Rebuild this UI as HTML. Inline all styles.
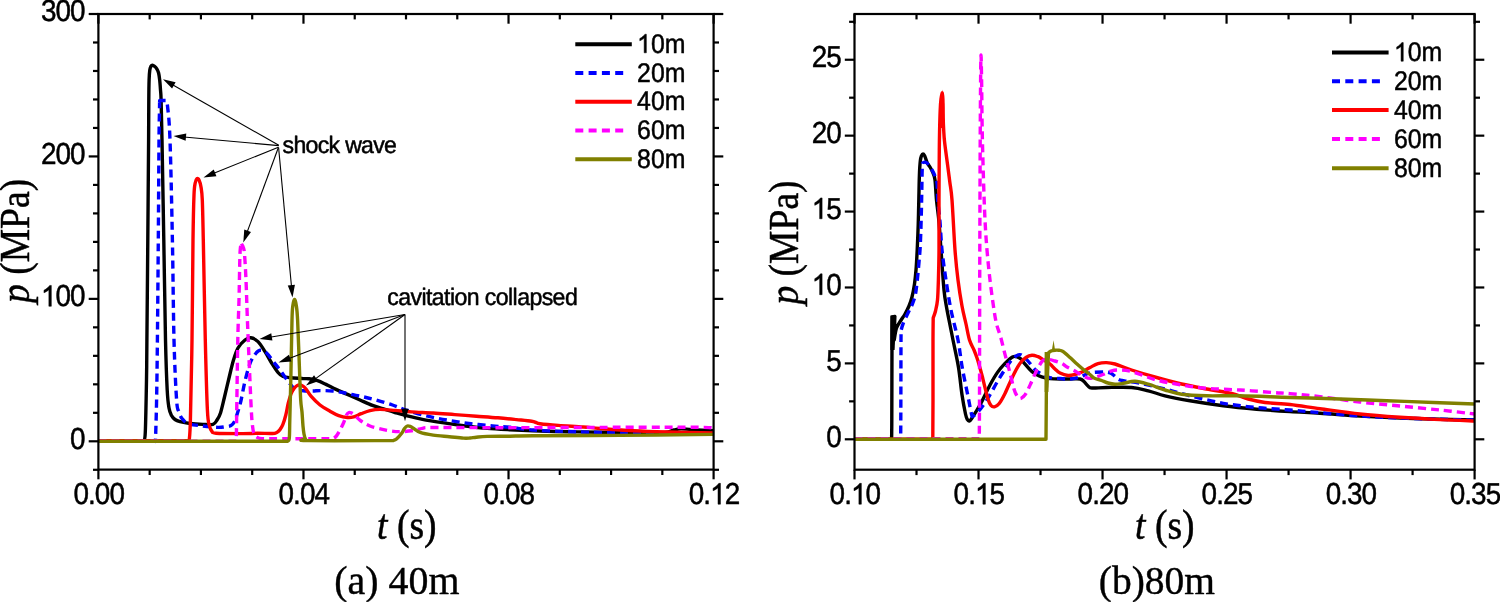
<!DOCTYPE html><html><head><meta charset="utf-8"><style>html,body{margin:0;padding:0;background:#fff;width:1500px;height:602px;overflow:hidden}svg text{fill:#000} svg{will-change:transform} path.t{fill:#000;stroke:#000;stroke-width:0.5px;stroke-linejoin:round} text.s{font-family:"Liberation Sans",sans-serif;text-rendering:geometricPrecision;stroke:#000;stroke-width:0.5px;stroke-linejoin:round;font-kerning:none} tspan.h{fill-opacity:0;stroke-opacity:0} text.ax{stroke:#000;stroke-width:0.5px} text.cap{stroke:#000;stroke-width:0.4px}</style></head><body><svg width="1500" height="602" viewBox="0 0 1500 602" style="position:absolute;left:0;top:0">
<rect width="1500" height="602" fill="#fff"/>
<g clip-path="url(#clipL)">
<path d="M98.50,441.20 L143.80,441.20 C144.05,439.67 144.85,442.20 145.30,432.00 C145.75,421.80 146.23,395.33 146.50,380.00 C146.77,364.67 146.68,363.33 146.90,340.00 C147.12,316.67 147.52,273.33 147.80,240.00 C148.08,206.67 148.43,163.33 148.60,140.00 C148.77,116.67 148.72,110.00 148.80,100.00 C148.88,90.00 148.93,85.00 149.10,80.00 C149.27,75.00 149.48,72.30 149.80,70.00 C150.12,67.70 150.55,67.00 151.00,66.20 C151.45,65.40 151.92,65.18 152.50,65.20 C153.08,65.22 153.78,65.70 154.50,66.30 C155.22,66.90 156.12,67.68 156.80,68.80 C157.48,69.92 158.12,71.13 158.60,73.00 C159.08,74.87 159.38,77.17 159.70,80.00 C160.02,82.83 160.27,86.67 160.50,90.00 C160.73,93.33 160.85,91.67 161.10,100.00 C161.35,108.33 161.55,116.67 162.00,140.00 C162.45,163.33 163.22,206.67 163.80,240.00 C164.38,273.33 164.93,315.00 165.50,340.00 C166.07,365.00 166.62,378.67 167.20,390.00 C167.78,401.33 168.28,403.75 169.00,408.00 C169.72,412.25 170.50,413.58 171.50,415.50 C172.50,417.42 173.58,418.48 175.00,419.50 C176.42,420.52 177.50,420.93 180.00,421.60 C182.50,422.27 186.17,423.03 190.00,423.50 C193.83,423.97 199.17,424.27 203.00,424.40 C206.83,424.53 210.67,425.03 213.00,424.30 C215.33,423.57 215.75,421.88 217.00,420.00 C218.25,418.12 219.25,416.83 220.50,413.00 C221.75,409.17 223.08,402.83 224.50,397.00 C225.92,391.17 227.50,384.17 229.00,378.00 C230.50,371.83 232.00,365.00 233.50,360.00 C235.00,355.00 236.08,351.33 238.00,348.00 C239.92,344.67 242.87,341.70 245.00,340.00 C247.13,338.30 248.63,337.53 250.80,337.80 C252.97,338.07 255.63,339.30 258.00,341.60 C260.37,343.90 262.73,348.03 265.00,351.60 C267.27,355.17 269.43,359.52 271.60,363.00 C273.77,366.48 276.10,370.25 278.00,372.50 C279.90,374.75 280.73,375.62 283.00,376.50 C285.27,377.38 288.27,377.45 291.60,377.80 C294.93,378.15 300.10,378.43 303.00,378.60 C305.90,378.77 306.58,378.47 309.00,378.80 C311.42,379.13 314.67,379.67 317.50,380.60 C320.33,381.53 322.92,382.93 326.00,384.40 C329.08,385.87 332.42,387.73 336.00,389.40 C339.58,391.07 343.50,392.63 347.50,394.40 C351.50,396.17 355.83,398.17 360.00,400.00 C364.17,401.83 368.33,403.83 372.50,405.40 C376.67,406.97 381.25,408.22 385.00,409.40 C388.75,410.58 391.47,411.47 395.00,412.50 C398.53,413.53 401.63,414.47 406.20,415.60 C410.77,416.73 416.10,418.08 422.40,419.30 C428.70,420.52 436.80,421.78 444.00,422.90 C451.20,424.02 458.40,425.08 465.60,426.00 C472.80,426.92 479.80,427.77 487.20,428.40 C494.60,429.03 502.37,429.40 510.00,429.80 C517.63,430.20 523.57,430.48 533.00,430.80 C542.43,431.12 555.43,431.47 566.60,431.70 C577.77,431.93 587.77,432.05 600.00,432.20 C612.23,432.35 629.17,432.57 640.00,432.60 C650.83,432.63 659.33,432.83 665.00,432.40 C670.67,431.97 671.33,430.60 674.00,430.00 C676.67,429.40 678.00,428.87 681.00,428.80 C684.00,428.73 686.58,429.27 692.00,429.60 C697.42,429.93 709.92,430.60 713.50,430.80" fill="none" stroke="#000000" stroke-width="3.4" stroke-linejoin="round" stroke-linecap="butt"/>
<path d="M98.50,441.20 L155.40,441.20 C155.43,440.50 155.40,443.87 155.60,437.00 C155.80,430.13 156.30,416.17 156.60,400.00 C156.90,383.83 157.12,366.67 157.40,340.00 C157.68,313.33 158.03,273.33 158.30,240.00 C158.57,206.67 158.80,161.67 159.00,140.00 C159.20,118.33 159.40,116.23 159.50,110.00 C159.60,103.77 159.58,103.83 159.60,102.60" fill="none" stroke="#0000ff" stroke-width="3.4" stroke-linejoin="round" stroke-linecap="butt" stroke-dasharray="8,5"/>
<path d="M159.60,102.60 L159.70,100.50 L166.00,100.50 C166.25,101.42 166.83,99.42 167.50,106.00 C168.17,112.58 169.18,117.67 170.00,140.00 C170.82,162.33 171.73,206.67 172.40,240.00 C173.07,273.33 173.30,313.33 174.00,340.00 C174.70,366.67 175.77,388.00 176.60,400.00 C177.43,412.00 178.10,408.92 179.00,412.00 C179.90,415.08 180.42,416.55 182.00,418.50 C183.58,420.45 185.00,422.45 188.50,423.70 C192.00,424.95 198.13,425.38 203.00,426.00 C207.87,426.62 214.03,427.27 217.70,427.40 C221.37,427.53 222.78,427.10 225.00,426.80 C227.22,426.50 229.42,426.48 231.00,425.60 C232.58,424.72 233.42,423.60 234.50,421.50 C235.58,419.40 236.42,416.50 237.50,413.00 C238.58,409.50 239.75,405.83 241.00,400.50 C242.25,395.17 243.50,387.17 245.00,381.00 C246.50,374.83 248.33,367.92 250.00,363.50 C251.67,359.08 253.33,356.70 255.00,354.50 C256.67,352.30 258.07,350.55 260.00,350.30 C261.93,350.05 264.38,351.12 266.60,353.00 C268.82,354.88 271.07,358.77 273.30,361.60 C275.53,364.43 277.50,366.67 280.00,370.00 C282.50,373.33 285.80,378.43 288.30,381.60 C290.80,384.77 292.50,387.47 295.00,389.00 C297.50,390.53 300.30,390.47 303.30,390.80 C306.30,391.13 310.22,391.03 313.00,391.00 C315.78,390.97 316.75,390.60 320.00,390.60 C323.25,390.60 328.75,390.68 332.50,391.00 C336.25,391.32 339.42,391.93 342.50,392.50 C345.58,393.07 347.47,393.67 351.00,394.40 C354.53,395.13 359.53,395.97 363.70,396.90 C367.87,397.83 371.20,398.65 376.00,400.00 C380.80,401.35 387.47,403.30 392.50,405.00 C397.53,406.70 400.32,408.33 406.20,410.20 C412.08,412.07 420.60,414.48 427.80,416.20 C435.00,417.92 442.20,419.25 449.40,420.50 C456.60,421.75 463.80,422.80 471.00,423.70 C478.20,424.60 486.10,425.30 492.60,425.90 C499.10,426.50 503.27,426.62 510.00,427.30 C516.73,427.98 523.67,429.30 533.00,430.00 C542.33,430.70 551.50,431.07 566.00,431.50 C580.50,431.93 595.42,432.27 620.00,432.60 C644.58,432.93 697.92,433.35 713.50,433.50" fill="none" stroke="#0000ff" stroke-width="3.4" stroke-linejoin="round" stroke-linecap="butt" stroke-dasharray="8,5"/>
<path d="M98.50,440.80 L189.20,440.80 C189.40,437.33 189.93,436.80 190.40,420.00 C190.87,403.20 191.57,370.00 192.00,340.00 C192.43,310.00 192.67,264.17 193.00,240.00 C193.33,215.83 193.63,204.50 194.00,195.00 C194.37,185.50 194.70,185.73 195.20,183.00 C195.70,180.27 196.37,179.10 197.00,178.60 C197.63,178.10 198.33,178.60 199.00,180.00 C199.67,181.40 200.45,183.67 201.00,187.00 C201.55,190.33 201.92,191.17 202.30,200.00 C202.68,208.83 202.80,216.67 203.30,240.00 C203.80,263.33 204.62,311.67 205.30,340.00 C205.98,368.33 206.70,395.67 207.40,410.00 C208.10,424.33 208.73,422.42 209.50,426.00 C210.27,429.58 210.92,430.30 212.00,431.50 C213.08,432.70 210.93,432.85 216.00,433.20 C221.07,433.55 235.50,433.58 242.40,433.60 C249.30,433.62 252.42,433.32 257.40,433.30 C262.38,433.28 269.07,433.63 272.30,433.50 C275.53,433.37 275.55,433.10 276.80,432.50 C278.05,431.90 278.80,431.20 279.80,429.90 C280.80,428.60 281.80,427.18 282.80,424.70 C283.80,422.22 284.88,418.62 285.80,415.00 C286.72,411.38 287.43,406.50 288.30,403.00 C289.17,399.50 290.05,396.42 291.00,394.00 C291.95,391.58 293.00,389.90 294.00,388.50 C295.00,387.10 296.00,386.18 297.00,385.60 C298.00,385.02 299.00,384.90 300.00,385.00 C301.00,385.10 302.00,385.53 303.00,386.20 C304.00,386.87 304.67,387.33 306.00,389.00 C307.33,390.67 308.67,393.53 311.00,396.20 C313.33,398.87 316.83,402.50 320.00,405.00 C323.17,407.50 326.88,409.43 330.00,411.20 C333.12,412.97 335.78,414.55 338.70,415.60 C341.62,416.65 345.00,417.28 347.50,417.50 C350.00,417.72 351.42,417.53 353.70,416.90 C355.98,416.27 358.48,414.75 361.20,413.70 C363.92,412.65 366.87,411.32 370.00,410.60 C373.13,409.88 375.83,409.43 380.00,409.40 C384.17,409.37 389.73,409.98 395.00,410.40 C400.27,410.82 405.23,411.47 411.60,411.90 C417.97,412.33 426.00,412.55 433.20,413.00 C440.40,413.45 447.60,414.07 454.80,414.60 C462.00,415.13 469.20,415.67 476.40,416.20 C483.60,416.73 491.30,417.23 498.00,417.80 C504.70,418.37 511.00,419.03 516.60,419.60 C522.20,420.17 528.37,420.72 531.60,421.20 C534.83,421.68 534.60,422.08 536.00,422.50 C537.40,422.92 536.28,423.22 540.00,423.70 C543.72,424.18 551.08,424.85 558.30,425.40 C565.52,425.95 576.35,426.48 583.30,427.00 C590.25,427.52 591.67,427.87 600.00,428.50 C608.33,429.13 622.20,430.22 633.30,430.80 C644.40,431.38 653.23,431.65 666.60,432.00 C679.97,432.35 705.68,432.75 713.50,432.90" fill="none" stroke="#ff0000" stroke-width="3.4" stroke-linejoin="round" stroke-linecap="butt"/>
<path d="M98.50,441.20 L236.30,441.20 C236.35,437.67 236.35,436.87 236.60,420.00 C236.85,403.13 237.40,360.00 237.80,340.00 C238.20,320.00 238.70,311.67 239.00,300.00 C239.30,288.33 239.45,277.33 239.60,270.00 C239.75,262.67 239.77,259.67 239.90,256.00 C240.03,252.33 240.15,250.03 240.40,248.00 C240.65,245.97 241.23,244.50 241.40,243.80" fill="none" stroke="#ff00ff" stroke-width="3.4" stroke-linejoin="round" stroke-linecap="butt" stroke-dasharray="8,5"/>
<path d="M241.40,243.80 C241.72,244.42 242.78,245.80 243.30,247.50 C243.82,249.20 244.05,248.58 244.50,254.00 C244.95,259.42 245.52,269.00 246.00,280.00 C246.48,291.00 246.82,305.00 247.40,320.00 C247.98,335.00 248.85,355.00 249.50,370.00 C250.15,385.00 250.83,401.00 251.30,410.00 C251.77,419.00 251.88,420.17 252.30,424.00 C252.72,427.83 252.95,430.77 253.80,433.00 C254.65,435.23 255.57,436.47 257.40,437.40 C259.23,438.33 257.70,438.37 264.80,438.60 C271.90,438.83 288.72,438.77 300.00,438.80 C311.28,438.83 327.08,438.80 332.50,438.80 C333.08,438.42 334.83,437.80 336.00,436.50 C337.17,435.20 338.22,433.33 339.50,431.00 C340.78,428.67 342.53,425.17 343.70,422.50 C344.87,419.83 345.62,416.67 346.50,415.00 C347.38,413.33 348.17,412.83 349.00,412.50 C349.83,412.17 350.67,412.65 351.50,413.00 C352.33,413.35 352.42,413.27 354.00,414.60 C355.58,415.93 358.33,419.10 361.00,421.00 C363.67,422.90 366.42,424.60 370.00,426.00 C373.58,427.40 378.55,428.50 382.50,429.40 C386.45,430.30 390.65,431.03 393.70,431.40 C396.75,431.77 397.82,431.70 400.80,431.60 C403.78,431.50 408.00,431.33 411.60,430.80 C415.20,430.27 418.80,428.95 422.40,428.40 C426.00,427.85 420.27,427.62 433.20,427.50 C446.13,427.38 468.87,427.73 500.00,427.70 C531.13,427.67 586.67,427.37 620.00,427.30 C653.33,427.23 684.42,427.15 700.00,427.30 C715.58,427.45 711.25,428.05 713.50,428.20" fill="none" stroke="#ff00ff" stroke-width="3.4" stroke-linejoin="round" stroke-linecap="butt" stroke-dasharray="8,5"/>
<path d="M98.50,441.20 L287.60,441.20 C287.88,440.67 288.93,441.53 289.30,438.00 C289.67,434.47 289.55,429.67 289.80,420.00 C290.05,410.33 290.43,396.67 290.80,380.00 C291.17,363.33 291.67,332.33 292.00,320.00 C292.33,307.67 292.38,309.42 292.80,306.00 C293.22,302.58 293.93,299.67 294.50,299.50 C295.07,299.33 295.68,301.58 296.20,305.00 C296.72,308.42 297.05,309.17 297.60,320.00 C298.15,330.83 298.98,356.67 299.50,370.00 C300.02,383.33 300.28,393.00 300.70,400.00 C301.12,407.00 301.62,407.63 302.00,412.00 C302.38,416.37 302.67,422.53 303.00,426.20 C303.33,429.87 303.58,431.87 304.00,434.00 C304.42,436.13 304.83,437.90 305.50,439.00 C306.17,440.10 293.42,440.33 308.00,440.60 C322.58,440.87 378.83,440.60 393.00,440.60 C393.58,440.33 395.02,440.27 396.50,439.00 C397.98,437.73 400.57,434.75 401.90,433.00 C403.23,431.25 403.60,429.67 404.50,428.50 C405.40,427.33 406.30,426.33 407.30,426.00 C408.30,425.67 409.55,426.17 410.50,426.50 C411.45,426.83 411.38,427.02 413.00,428.00 C414.62,428.98 416.83,431.22 420.20,432.40 C423.57,433.58 428.33,434.38 433.20,435.10 C438.07,435.82 444.37,436.20 449.40,436.70 C454.43,437.20 459.97,437.88 463.40,438.10 C466.83,438.32 467.83,438.15 470.00,438.00 C472.17,437.85 473.53,437.47 476.40,437.20 C479.27,436.93 481.60,436.57 487.20,436.40 C492.80,436.23 502.37,436.30 510.00,436.20 C517.63,436.10 514.67,435.93 533.00,435.80 C551.33,435.67 589.92,435.63 620.00,435.40 C650.08,435.17 697.92,434.57 713.50,434.40" fill="none" stroke="#808000" stroke-width="3.4" stroke-linejoin="round" stroke-linecap="butt"/>
</g>
<g clip-path="url(#clipR)">
<path d="M854.50,439.30 L891.60,439.30 C891.63,436.08 891.73,436.55 891.80,420.00 C891.87,403.45 891.92,357.17 892.00,340.00 C892.08,322.83 892.25,320.83 892.30,317.00 L894.80,316.50 L894.20,340.00 C894.58,338.00 895.45,331.17 896.50,328.00 C897.55,324.83 899.08,323.33 900.50,321.00 C901.92,318.67 903.58,316.50 905.00,314.00 C906.42,311.50 907.83,308.83 909.00,306.00 C910.17,303.17 911.08,300.67 912.00,297.00 C912.92,293.33 913.83,288.50 914.50,284.00 C915.17,279.50 915.55,275.67 916.00,270.00 C916.45,264.33 916.83,257.50 917.20,250.00 C917.57,242.50 917.93,233.33 918.20,225.00 C918.47,216.67 918.60,208.33 918.80,200.00 C919.00,191.67 919.15,181.50 919.40,175.00 C919.65,168.50 919.93,164.25 920.30,161.00 C920.67,157.75 921.15,156.67 921.60,155.50 C922.05,154.33 922.52,154.00 923.00,154.00 C923.48,154.00 924.00,154.58 924.50,155.50 C925.00,156.42 925.50,158.17 926.00,159.50 C926.50,160.83 926.83,162.25 927.50,163.50 C928.17,164.75 929.08,165.42 930.00,167.00 C930.92,168.58 932.17,170.83 933.00,173.00 C933.83,175.17 934.42,175.50 935.00,180.00 C935.58,184.50 935.83,193.00 936.50,200.00 C937.17,207.00 938.25,213.67 939.00,222.00 C939.75,230.33 940.17,238.67 941.00,250.00 C941.83,261.33 943.08,280.50 944.00,290.00 C944.92,299.50 945.67,302.00 946.50,307.00 C947.33,312.00 947.92,314.50 949.00,320.00 C950.08,325.50 951.42,332.10 953.00,340.00 C954.58,347.90 957.00,358.27 958.50,367.40 C960.00,376.53 960.83,387.03 962.00,394.80 C963.17,402.57 964.58,409.83 965.50,414.00 C966.42,418.17 966.87,418.63 967.50,419.80 C968.13,420.97 968.63,421.18 969.30,421.00 C969.97,420.82 969.63,421.53 971.50,418.70 C973.37,415.87 977.48,409.50 980.50,404.00 C983.52,398.50 986.77,390.97 989.60,385.70 C992.43,380.43 994.93,376.12 997.50,372.40 C1000.07,368.68 1002.50,365.97 1005.00,363.40 C1007.50,360.83 1010.50,358.10 1012.50,357.00 C1014.50,355.90 1015.58,356.47 1017.00,356.80 C1018.42,357.13 1019.77,357.90 1021.00,359.00 C1022.23,360.10 1022.57,361.30 1024.40,363.40 C1026.23,365.50 1029.50,369.50 1032.00,371.60 C1034.50,373.70 1037.23,374.97 1039.40,376.00 C1041.57,377.03 1043.23,377.37 1045.00,377.80 C1046.77,378.23 1047.50,378.40 1050.00,378.60 C1052.50,378.80 1056.67,378.93 1060.00,379.00 C1063.33,379.07 1066.67,379.00 1070.00,379.00 C1073.33,379.00 1077.67,378.58 1080.00,379.00 C1082.33,379.42 1082.67,380.33 1084.00,381.50 C1085.33,382.67 1086.67,384.92 1088.00,386.00 C1089.33,387.08 1088.90,387.75 1092.00,388.00 C1095.10,388.25 1100.00,387.58 1106.60,387.50 C1113.20,387.42 1124.65,386.95 1131.60,387.50 C1138.55,388.05 1142.73,389.42 1148.30,390.80 C1153.87,392.18 1158.05,394.13 1165.00,395.80 C1171.95,397.47 1180.28,399.13 1190.00,400.80 C1199.72,402.47 1212.20,404.40 1223.30,405.80 C1234.40,407.20 1245.48,408.23 1256.60,409.20 C1267.72,410.17 1279.43,410.93 1290.00,411.60 C1300.57,412.27 1308.33,412.47 1320.00,413.20 C1331.67,413.93 1346.67,415.20 1360.00,416.00 C1373.33,416.80 1386.67,417.45 1400.00,418.00 C1413.33,418.55 1427.53,418.97 1440.00,419.30 C1452.47,419.63 1469.00,419.88 1474.80,420.00" fill="none" stroke="#000000" stroke-width="3.4" stroke-linejoin="round" stroke-linecap="butt"/>
<polygon points="890.4,315.5 896.2,315.5 894.6,350 890.4,350" fill="#000"/>
<path d="M854.50,439.30 L900.60,439.30 C900.63,436.08 900.73,436.55 900.80,420.00 C900.87,403.45 900.93,355.00 901.00,340.00 C901.07,325.00 901.17,331.67 901.20,330.00 C901.50,329.00 901.87,326.83 903.00,324.00 C904.13,321.17 906.50,316.17 908.00,313.00 C909.50,309.83 910.78,308.00 912.00,305.00 C913.22,302.00 914.42,299.17 915.30,295.00 C916.18,290.83 916.68,285.50 917.30,280.00 C917.92,274.50 918.50,267.83 919.00,262.00 C919.50,256.17 919.92,252.83 920.30,245.00 C920.68,237.17 921.05,224.17 921.30,215.00 C921.55,205.83 921.65,197.50 921.80,190.00 C921.95,182.50 922.03,174.50 922.20,170.00 C922.37,165.50 922.00,164.17 922.80,163.00 C923.60,161.83 925.47,161.83 927.00,163.00 C928.53,164.17 930.67,167.83 932.00,170.00 C933.33,172.17 934.17,173.83 935.00,176.00 C935.83,178.17 936.53,179.00 937.00,183.00 C937.47,187.00 937.30,193.50 937.80,200.00 C938.30,206.50 939.30,213.67 940.00,222.00 C940.70,230.33 941.00,240.33 942.00,250.00 C943.00,259.67 944.50,270.00 946.00,280.00 C947.50,290.00 949.00,300.00 951.00,310.00 C953.00,320.00 956.13,330.43 958.00,340.00 C959.87,349.57 960.58,358.27 962.20,367.40 C963.82,376.53 966.15,387.03 967.70,394.80 C969.25,402.57 970.62,410.47 971.50,414.00 C972.38,417.53 971.82,416.47 973.00,416.00 C974.18,415.53 976.13,414.13 978.60,411.20 C981.07,408.27 984.65,403.37 987.80,398.40 C990.95,393.43 994.63,386.23 997.50,381.40 C1000.37,376.57 1002.50,373.13 1005.00,369.40 C1007.50,365.67 1010.00,361.47 1012.50,359.00 C1015.00,356.53 1017.52,354.37 1020.00,354.60 C1022.48,354.83 1024.90,357.93 1027.40,360.40 C1029.90,362.87 1032.50,367.03 1035.00,369.40 C1037.50,371.77 1039.90,373.23 1042.40,374.60 C1044.90,375.97 1047.07,376.95 1050.00,377.60 C1052.93,378.25 1056.67,378.27 1060.00,378.50 C1063.33,378.73 1066.67,379.25 1070.00,379.00 C1073.33,378.75 1076.67,378.03 1080.00,377.00 C1083.33,375.97 1086.00,373.63 1090.00,372.80 C1094.00,371.97 1100.67,372.00 1104.00,372.00 C1107.33,372.00 1108.33,372.22 1110.00,372.80 C1111.67,373.38 1112.67,374.47 1114.00,375.50 C1115.33,376.53 1116.67,378.17 1118.00,379.00 C1119.33,379.83 1120.57,380.12 1122.00,380.50 C1123.43,380.88 1123.60,380.83 1126.60,381.30 C1129.60,381.77 1133.60,382.02 1140.00,383.30 C1146.40,384.58 1156.67,386.92 1165.00,389.00 C1173.33,391.08 1180.28,393.42 1190.00,395.80 C1199.72,398.18 1212.20,401.35 1223.30,403.30 C1234.40,405.25 1245.48,406.38 1256.60,407.50 C1267.72,408.62 1279.43,409.13 1290.00,410.00 C1300.57,410.87 1308.33,411.70 1320.00,412.70 C1331.67,413.70 1346.67,415.12 1360.00,416.00 C1373.33,416.88 1386.67,417.45 1400.00,418.00 C1413.33,418.55 1427.53,418.97 1440.00,419.30 C1452.47,419.63 1469.00,419.88 1474.80,420.00" fill="none" stroke="#0000ff" stroke-width="3.4" stroke-linejoin="round" stroke-linecap="butt" stroke-dasharray="8,5"/>
<path d="M854.50,439.30 L932.80,439.30 C932.83,432.75 932.97,416.55 933.00,400.00 C933.03,383.45 932.97,353.67 933.00,340.00 C933.03,326.33 933.17,321.67 933.20,318.00 C933.58,316.83 934.78,314.00 935.50,311.00 C936.22,308.00 937.02,305.17 937.50,300.00 C937.98,294.83 938.15,288.33 938.40,280.00 C938.65,271.67 938.90,263.33 939.00,250.00 C939.10,236.67 938.95,216.67 939.00,200.00 C939.05,183.33 939.20,161.67 939.30,150.00 C939.40,138.33 939.45,136.67 939.60,130.00 C939.75,123.33 939.97,115.17 940.20,110.00 C940.43,104.83 940.67,101.83 941.00,99.00 C941.33,96.17 942.00,94.00 942.20,93.00 C942.32,94.00 942.73,94.83 942.90,99.00 C943.07,103.17 943.07,112.83 943.20,118.00 C943.33,123.17 943.47,126.00 943.70,130.00 C943.93,134.00 943.95,136.17 944.60,142.00 C945.25,147.83 946.73,158.33 947.60,165.00 C948.47,171.67 949.07,176.17 949.80,182.00 C950.53,187.83 951.13,188.67 952.00,200.00 C952.87,211.33 954.00,236.67 955.00,250.00 C956.00,263.33 956.83,270.67 958.00,280.00 C959.17,289.33 960.67,298.67 962.00,306.00 C963.33,313.33 964.75,318.33 966.00,324.00 C967.25,329.67 968.17,335.67 969.50,340.00 C970.83,344.33 972.75,347.00 974.00,350.00 C975.25,353.00 976.00,355.00 977.00,358.00 C978.00,361.00 979.12,364.92 980.00,368.00 C980.88,371.08 981.00,371.43 982.30,376.50 C983.60,381.57 986.35,393.57 987.80,398.40 C989.25,403.23 989.88,404.10 991.00,405.50 C992.12,406.90 993.17,407.08 994.50,406.80 C995.83,406.52 997.25,406.03 999.00,403.80 C1000.75,401.57 1002.75,397.88 1005.00,393.40 C1007.25,388.92 1010.00,381.90 1012.50,376.90 C1015.00,371.90 1017.75,366.65 1020.00,363.40 C1022.25,360.15 1024.00,358.77 1026.00,357.40 C1028.00,356.03 1030.00,355.32 1032.00,355.20 C1034.00,355.08 1036.33,356.07 1038.00,356.70 C1039.67,357.33 1040.00,357.78 1042.00,359.00 C1044.00,360.22 1047.83,362.33 1050.00,364.00 C1052.17,365.67 1053.33,367.50 1055.00,369.00 C1056.67,370.50 1057.83,371.92 1060.00,373.00 C1062.17,374.08 1065.50,375.25 1068.00,375.50 C1070.50,375.75 1072.67,375.08 1075.00,374.50 C1077.33,373.92 1079.50,373.17 1082.00,372.00 C1084.50,370.83 1087.33,368.90 1090.00,367.50 C1092.67,366.10 1095.23,364.42 1098.00,363.60 C1100.77,362.78 1103.77,362.53 1106.60,362.60 C1109.43,362.67 1110.83,362.77 1115.00,364.00 C1119.17,365.23 1124.67,367.75 1131.60,370.00 C1138.53,372.25 1148.27,375.17 1156.60,377.50 C1164.93,379.83 1173.27,382.08 1181.60,384.00 C1189.93,385.92 1198.27,387.42 1206.60,389.00 C1214.93,390.58 1224.65,391.83 1231.60,393.50 C1238.55,395.17 1242.73,397.50 1248.30,399.00 C1253.87,400.50 1258.05,401.58 1265.00,402.50 C1271.95,403.42 1280.83,403.47 1290.00,404.50 C1299.17,405.53 1308.33,407.12 1320.00,408.70 C1331.67,410.28 1346.67,412.57 1360.00,414.00 C1373.33,415.43 1386.67,416.37 1400.00,417.30 C1413.33,418.23 1427.53,418.98 1440.00,419.60 C1452.47,420.22 1469.00,420.77 1474.80,421.00" fill="none" stroke="#ff0000" stroke-width="3.4" stroke-linejoin="round" stroke-linecap="butt"/>
<polygon points="940.3,104 942.3,89.6 944.2,104 944.4,128 939.4,128" fill="#ff0000"/>
<path d="M854.50,438.80 L979.30,438.80 C979.33,432.33 979.45,416.47 979.50,400.00 C979.55,383.53 979.55,365.00 979.60,340.00 C979.65,315.00 979.70,283.33 979.80,250.00 C979.90,216.67 980.07,168.33 980.20,140.00 C980.33,111.67 980.47,94.17 980.60,80.00 C980.73,65.83 980.83,55.00 981.00,55.00 C981.17,55.00 981.40,67.50 981.60,80.00 C981.80,92.50 981.88,113.33 982.20,130.00 C982.52,146.67 983.03,165.00 983.50,180.00 C983.97,195.00 984.42,208.33 985.00,220.00 C985.58,231.67 986.17,240.00 987.00,250.00 C987.83,260.00 988.83,270.00 990.00,280.00 C991.17,290.00 992.87,302.50 994.00,310.00 C995.13,317.50 995.72,320.58 996.80,325.00 C997.88,329.42 999.13,331.60 1000.50,336.50 C1001.87,341.40 1003.50,348.65 1005.00,354.40 C1006.50,360.15 1008.00,365.25 1009.50,371.00 C1011.00,376.75 1012.75,384.73 1014.00,388.90 C1015.25,393.07 1016.00,394.38 1017.00,396.00 C1018.00,397.62 1019.00,398.43 1020.00,398.60 C1021.00,398.77 1022.00,397.87 1023.00,397.00 C1024.00,396.13 1024.77,395.50 1026.00,393.40 C1027.23,391.30 1028.67,388.13 1030.40,384.40 C1032.13,380.67 1034.40,374.90 1036.40,371.00 C1038.40,367.10 1040.47,362.92 1042.40,361.00 C1044.33,359.08 1045.90,359.50 1048.00,359.50 C1050.10,359.50 1052.67,360.33 1055.00,361.00 C1057.33,361.67 1060.00,362.50 1062.00,363.50 C1064.00,364.50 1065.00,365.83 1067.00,367.00 C1069.00,368.17 1072.00,369.42 1074.00,370.50 C1076.00,371.58 1077.17,372.42 1079.00,373.50 C1080.83,374.58 1083.17,376.18 1085.00,377.00 C1086.83,377.82 1088.17,378.40 1090.00,378.40 C1091.83,378.40 1093.83,377.65 1096.00,377.00 C1098.17,376.35 1100.67,375.42 1103.00,374.50 C1105.33,373.58 1107.50,372.25 1110.00,371.50 C1112.50,370.75 1114.40,369.98 1118.00,370.00 C1121.60,370.02 1125.17,369.93 1131.60,371.60 C1138.03,373.27 1148.27,377.77 1156.60,380.00 C1164.93,382.23 1173.27,383.62 1181.60,385.00 C1189.93,386.38 1196.87,387.47 1206.60,388.30 C1216.33,389.13 1228.88,389.30 1240.00,390.00 C1251.12,390.70 1264.97,391.90 1273.30,392.50 C1281.63,393.10 1282.22,392.90 1290.00,393.60 C1297.78,394.30 1308.33,395.30 1320.00,396.70 C1331.67,398.10 1346.67,400.45 1360.00,402.00 C1373.33,403.55 1386.67,404.67 1400.00,406.00 C1413.33,407.33 1427.53,408.67 1440.00,410.00 C1452.47,411.33 1469.00,413.33 1474.80,414.00" fill="none" stroke="#ff00ff" stroke-width="3.4" stroke-linejoin="round" stroke-linecap="butt" stroke-dasharray="8,5"/>
<path d="M854.50,439.30 L1046.00,439.30 C1046.05,432.75 1046.20,413.22 1046.30,400.00 C1046.40,386.78 1046.55,366.67 1046.60,360.00 C1046.83,358.92 1047.27,355.00 1048.00,353.50 C1048.73,352.00 1049.83,351.55 1051.00,351.00 C1052.17,350.45 1053.67,350.32 1055.00,350.20 C1056.33,350.08 1057.67,350.08 1059.00,350.30 C1060.33,350.52 1061.17,350.30 1063.00,351.50 C1064.83,352.70 1067.67,355.42 1070.00,357.50 C1072.33,359.58 1074.67,361.92 1077.00,364.00 C1079.33,366.08 1081.83,368.25 1084.00,370.00 C1086.17,371.75 1088.33,373.17 1090.00,374.50 C1091.67,375.83 1092.07,377.00 1094.00,378.00 C1095.93,379.00 1099.27,379.67 1101.60,380.50 C1103.93,381.33 1105.77,382.38 1108.00,383.00 C1110.23,383.62 1112.45,384.15 1115.00,384.20 C1117.55,384.25 1119.97,383.78 1123.30,383.30 C1126.63,382.82 1130.83,381.15 1135.00,381.30 C1139.17,381.45 1143.30,382.75 1148.30,384.20 C1153.30,385.65 1159.45,388.33 1165.00,390.00 C1170.55,391.67 1174.67,393.23 1181.60,394.20 C1188.53,395.17 1196.87,395.53 1206.60,395.80 C1216.33,396.07 1226.10,395.52 1240.00,395.80 C1253.90,396.08 1274.50,397.02 1290.00,397.50 C1305.50,397.98 1316.88,398.17 1333.00,398.70 C1349.12,399.23 1368.87,400.03 1386.70,400.70 C1404.53,401.37 1425.32,402.15 1440.00,402.70 C1454.68,403.25 1469.00,403.78 1474.80,404.00" fill="none" stroke="#808000" stroke-width="3.4" stroke-linejoin="round" stroke-linecap="butt"/>
<polygon points="1051.6,351.5 1053.6,340.3 1055.2,351.5" fill="#808000"/>
<polygon points="1044.6,352 1050.2,352 1048.4,392 1044.6,392" fill="#808000"/>
</g>
<defs><clipPath id="clipL"><rect x="98.4" y="14.0" width="615.2" height="455.6"/></clipPath><clipPath id="clipR"><rect x="854.5" y="14.0" width="620.0999999999999" height="455.7"/></clipPath></defs>
<rect x="98.40" y="14.00" width="615.20" height="455.60" fill="none" stroke="#000" stroke-width="2.2"/>
<line x1="98.40" y1="469.60" x2="98.40" y2="479.30" stroke="#000" stroke-width="2.2"/>
<line x1="98.40" y1="14.00" x2="98.40" y2="23.70" stroke="#000" stroke-width="2.2"/>
<line x1="303.47" y1="469.60" x2="303.47" y2="479.30" stroke="#000" stroke-width="2.2"/>
<line x1="303.47" y1="14.00" x2="303.47" y2="23.70" stroke="#000" stroke-width="2.2"/>
<line x1="508.53" y1="469.60" x2="508.53" y2="479.30" stroke="#000" stroke-width="2.2"/>
<line x1="508.53" y1="14.00" x2="508.53" y2="23.70" stroke="#000" stroke-width="2.2"/>
<line x1="713.60" y1="469.60" x2="713.60" y2="479.30" stroke="#000" stroke-width="2.2"/>
<line x1="713.60" y1="14.00" x2="713.60" y2="23.70" stroke="#000" stroke-width="2.2"/>
<line x1="149.67" y1="469.60" x2="149.67" y2="475.00" stroke="#000" stroke-width="2.2"/>
<line x1="149.67" y1="14.00" x2="149.67" y2="19.40" stroke="#000" stroke-width="2.2"/>
<line x1="200.93" y1="469.60" x2="200.93" y2="475.00" stroke="#000" stroke-width="2.2"/>
<line x1="200.93" y1="14.00" x2="200.93" y2="19.40" stroke="#000" stroke-width="2.2"/>
<line x1="252.20" y1="469.60" x2="252.20" y2="475.00" stroke="#000" stroke-width="2.2"/>
<line x1="252.20" y1="14.00" x2="252.20" y2="19.40" stroke="#000" stroke-width="2.2"/>
<line x1="354.73" y1="469.60" x2="354.73" y2="475.00" stroke="#000" stroke-width="2.2"/>
<line x1="354.73" y1="14.00" x2="354.73" y2="19.40" stroke="#000" stroke-width="2.2"/>
<line x1="406.00" y1="469.60" x2="406.00" y2="475.00" stroke="#000" stroke-width="2.2"/>
<line x1="406.00" y1="14.00" x2="406.00" y2="19.40" stroke="#000" stroke-width="2.2"/>
<line x1="457.27" y1="469.60" x2="457.27" y2="475.00" stroke="#000" stroke-width="2.2"/>
<line x1="457.27" y1="14.00" x2="457.27" y2="19.40" stroke="#000" stroke-width="2.2"/>
<line x1="559.80" y1="469.60" x2="559.80" y2="475.00" stroke="#000" stroke-width="2.2"/>
<line x1="559.80" y1="14.00" x2="559.80" y2="19.40" stroke="#000" stroke-width="2.2"/>
<line x1="611.07" y1="469.60" x2="611.07" y2="475.00" stroke="#000" stroke-width="2.2"/>
<line x1="611.07" y1="14.00" x2="611.07" y2="19.40" stroke="#000" stroke-width="2.2"/>
<line x1="662.33" y1="469.60" x2="662.33" y2="475.00" stroke="#000" stroke-width="2.2"/>
<line x1="662.33" y1="14.00" x2="662.33" y2="19.40" stroke="#000" stroke-width="2.2"/>
<line x1="88.70" y1="441.30" x2="98.40" y2="441.30" stroke="#000" stroke-width="2.2"/>
<line x1="713.60" y1="441.30" x2="723.30" y2="441.30" stroke="#000" stroke-width="2.2"/>
<line x1="88.70" y1="298.87" x2="98.40" y2="298.87" stroke="#000" stroke-width="2.2"/>
<line x1="713.60" y1="298.87" x2="723.30" y2="298.87" stroke="#000" stroke-width="2.2"/>
<line x1="88.70" y1="156.43" x2="98.40" y2="156.43" stroke="#000" stroke-width="2.2"/>
<line x1="713.60" y1="156.43" x2="723.30" y2="156.43" stroke="#000" stroke-width="2.2"/>
<line x1="88.70" y1="14.00" x2="98.40" y2="14.00" stroke="#000" stroke-width="2.2"/>
<line x1="713.60" y1="14.00" x2="723.30" y2="14.00" stroke="#000" stroke-width="2.2"/>
<line x1="93.00" y1="469.79" x2="98.40" y2="469.79" stroke="#000" stroke-width="2.2"/>
<line x1="713.60" y1="469.79" x2="719.00" y2="469.79" stroke="#000" stroke-width="2.2"/>
<line x1="93.00" y1="412.81" x2="98.40" y2="412.81" stroke="#000" stroke-width="2.2"/>
<line x1="713.60" y1="412.81" x2="719.00" y2="412.81" stroke="#000" stroke-width="2.2"/>
<line x1="93.00" y1="384.33" x2="98.40" y2="384.33" stroke="#000" stroke-width="2.2"/>
<line x1="713.60" y1="384.33" x2="719.00" y2="384.33" stroke="#000" stroke-width="2.2"/>
<line x1="93.00" y1="355.84" x2="98.40" y2="355.84" stroke="#000" stroke-width="2.2"/>
<line x1="713.60" y1="355.84" x2="719.00" y2="355.84" stroke="#000" stroke-width="2.2"/>
<line x1="93.00" y1="327.35" x2="98.40" y2="327.35" stroke="#000" stroke-width="2.2"/>
<line x1="713.60" y1="327.35" x2="719.00" y2="327.35" stroke="#000" stroke-width="2.2"/>
<line x1="93.00" y1="270.38" x2="98.40" y2="270.38" stroke="#000" stroke-width="2.2"/>
<line x1="713.60" y1="270.38" x2="719.00" y2="270.38" stroke="#000" stroke-width="2.2"/>
<line x1="93.00" y1="241.89" x2="98.40" y2="241.89" stroke="#000" stroke-width="2.2"/>
<line x1="713.60" y1="241.89" x2="719.00" y2="241.89" stroke="#000" stroke-width="2.2"/>
<line x1="93.00" y1="213.41" x2="98.40" y2="213.41" stroke="#000" stroke-width="2.2"/>
<line x1="713.60" y1="213.41" x2="719.00" y2="213.41" stroke="#000" stroke-width="2.2"/>
<line x1="93.00" y1="184.92" x2="98.40" y2="184.92" stroke="#000" stroke-width="2.2"/>
<line x1="713.60" y1="184.92" x2="719.00" y2="184.92" stroke="#000" stroke-width="2.2"/>
<line x1="93.00" y1="127.95" x2="98.40" y2="127.95" stroke="#000" stroke-width="2.2"/>
<line x1="713.60" y1="127.95" x2="719.00" y2="127.95" stroke="#000" stroke-width="2.2"/>
<line x1="93.00" y1="99.46" x2="98.40" y2="99.46" stroke="#000" stroke-width="2.2"/>
<line x1="713.60" y1="99.46" x2="719.00" y2="99.46" stroke="#000" stroke-width="2.2"/>
<line x1="93.00" y1="70.97" x2="98.40" y2="70.97" stroke="#000" stroke-width="2.2"/>
<line x1="713.60" y1="70.97" x2="719.00" y2="70.97" stroke="#000" stroke-width="2.2"/>
<line x1="93.00" y1="42.49" x2="98.40" y2="42.49" stroke="#000" stroke-width="2.2"/>
<line x1="713.60" y1="42.49" x2="719.00" y2="42.49" stroke="#000" stroke-width="2.2"/>
<rect x="854.50" y="14.00" width="620.10" height="455.70" fill="none" stroke="#000" stroke-width="2.2"/>
<line x1="854.50" y1="469.70" x2="854.50" y2="479.40" stroke="#000" stroke-width="2.2"/>
<line x1="854.50" y1="14.00" x2="854.50" y2="23.70" stroke="#000" stroke-width="2.2"/>
<line x1="978.52" y1="469.70" x2="978.52" y2="479.40" stroke="#000" stroke-width="2.2"/>
<line x1="978.52" y1="14.00" x2="978.52" y2="23.70" stroke="#000" stroke-width="2.2"/>
<line x1="1102.54" y1="469.70" x2="1102.54" y2="479.40" stroke="#000" stroke-width="2.2"/>
<line x1="1102.54" y1="14.00" x2="1102.54" y2="23.70" stroke="#000" stroke-width="2.2"/>
<line x1="1226.56" y1="469.70" x2="1226.56" y2="479.40" stroke="#000" stroke-width="2.2"/>
<line x1="1226.56" y1="14.00" x2="1226.56" y2="23.70" stroke="#000" stroke-width="2.2"/>
<line x1="1350.58" y1="469.70" x2="1350.58" y2="479.40" stroke="#000" stroke-width="2.2"/>
<line x1="1350.58" y1="14.00" x2="1350.58" y2="23.70" stroke="#000" stroke-width="2.2"/>
<line x1="1474.60" y1="469.70" x2="1474.60" y2="479.40" stroke="#000" stroke-width="2.2"/>
<line x1="1474.60" y1="14.00" x2="1474.60" y2="23.70" stroke="#000" stroke-width="2.2"/>
<line x1="916.51" y1="469.70" x2="916.51" y2="475.10" stroke="#000" stroke-width="2.2"/>
<line x1="916.51" y1="14.00" x2="916.51" y2="19.40" stroke="#000" stroke-width="2.2"/>
<line x1="1040.53" y1="469.70" x2="1040.53" y2="475.10" stroke="#000" stroke-width="2.2"/>
<line x1="1040.53" y1="14.00" x2="1040.53" y2="19.40" stroke="#000" stroke-width="2.2"/>
<line x1="1164.55" y1="469.70" x2="1164.55" y2="475.10" stroke="#000" stroke-width="2.2"/>
<line x1="1164.55" y1="14.00" x2="1164.55" y2="19.40" stroke="#000" stroke-width="2.2"/>
<line x1="1288.57" y1="469.70" x2="1288.57" y2="475.10" stroke="#000" stroke-width="2.2"/>
<line x1="1288.57" y1="14.00" x2="1288.57" y2="19.40" stroke="#000" stroke-width="2.2"/>
<line x1="1412.59" y1="469.70" x2="1412.59" y2="475.10" stroke="#000" stroke-width="2.2"/>
<line x1="1412.59" y1="14.00" x2="1412.59" y2="19.40" stroke="#000" stroke-width="2.2"/>
<line x1="844.80" y1="439.30" x2="854.50" y2="439.30" stroke="#000" stroke-width="2.2"/>
<line x1="1474.60" y1="439.30" x2="1484.30" y2="439.30" stroke="#000" stroke-width="2.2"/>
<line x1="844.80" y1="363.39" x2="854.50" y2="363.39" stroke="#000" stroke-width="2.2"/>
<line x1="1474.60" y1="363.39" x2="1484.30" y2="363.39" stroke="#000" stroke-width="2.2"/>
<line x1="844.80" y1="287.48" x2="854.50" y2="287.48" stroke="#000" stroke-width="2.2"/>
<line x1="1474.60" y1="287.48" x2="1484.30" y2="287.48" stroke="#000" stroke-width="2.2"/>
<line x1="844.80" y1="211.57" x2="854.50" y2="211.57" stroke="#000" stroke-width="2.2"/>
<line x1="1474.60" y1="211.57" x2="1484.30" y2="211.57" stroke="#000" stroke-width="2.2"/>
<line x1="844.80" y1="135.66" x2="854.50" y2="135.66" stroke="#000" stroke-width="2.2"/>
<line x1="1474.60" y1="135.66" x2="1484.30" y2="135.66" stroke="#000" stroke-width="2.2"/>
<line x1="844.80" y1="59.75" x2="854.50" y2="59.75" stroke="#000" stroke-width="2.2"/>
<line x1="1474.60" y1="59.75" x2="1484.30" y2="59.75" stroke="#000" stroke-width="2.2"/>
<line x1="849.10" y1="401.35" x2="854.50" y2="401.35" stroke="#000" stroke-width="2.2"/>
<line x1="1474.60" y1="401.35" x2="1480.00" y2="401.35" stroke="#000" stroke-width="2.2"/>
<line x1="849.10" y1="325.44" x2="854.50" y2="325.44" stroke="#000" stroke-width="2.2"/>
<line x1="1474.60" y1="325.44" x2="1480.00" y2="325.44" stroke="#000" stroke-width="2.2"/>
<line x1="849.10" y1="249.53" x2="854.50" y2="249.53" stroke="#000" stroke-width="2.2"/>
<line x1="1474.60" y1="249.53" x2="1480.00" y2="249.53" stroke="#000" stroke-width="2.2"/>
<line x1="849.10" y1="173.62" x2="854.50" y2="173.62" stroke="#000" stroke-width="2.2"/>
<line x1="1474.60" y1="173.62" x2="1480.00" y2="173.62" stroke="#000" stroke-width="2.2"/>
<line x1="849.10" y1="97.70" x2="854.50" y2="97.70" stroke="#000" stroke-width="2.2"/>
<line x1="1474.60" y1="97.70" x2="1480.00" y2="97.70" stroke="#000" stroke-width="2.2"/>
<line x1="849.10" y1="21.80" x2="854.50" y2="21.80" stroke="#000" stroke-width="2.2"/>
<line x1="1474.60" y1="21.80" x2="1480.00" y2="21.80" stroke="#000" stroke-width="2.2"/>
<text class="s" transform="translate(70.10,448.70) scale(0.92,1)" x="0" y="0" font-size="30.3">0</text>
<text class="s" transform="translate(40.93,306.27) scale(0.92,1)" x="0 15.85 31.7" y="0" font-size="30.3"><tspan class="h">1</tspan>00</text>
<path class="t" d="M51.32 306.27H48.87V289.7C48.28 290.29 47.5 290.88 46.55 291.47C45.6 292.06 44.74 292.51 43.97 292.8V290.29C45.33 289.59 46.52 288.73 47.55 287.77C48.57 286.81 49.29 286 49.72 285.42H51.32Z"/>
<text class="s" transform="translate(40.93,163.83) scale(0.92,1)" x="0 15.85 31.7" y="0" font-size="30.3">200</text>
<text class="s" transform="translate(40.93,21.40) scale(0.92,1)" x="0 15.85 31.7" y="0" font-size="30.3">300</text>
<text class="s" transform="translate(73.45,504.20) scale(0.92,1)" x="0 15.85 23.27 39.12" y="0" font-size="30.3">0.00</text>
<text class="s" transform="translate(278.52,504.20) scale(0.92,1)" x="0 15.85 23.27 39.12" y="0" font-size="30.3">0.04</text>
<text class="s" transform="translate(483.59,504.20) scale(0.92,1)" x="0 15.85 23.27 39.12" y="0" font-size="30.3">0.08</text>
<text class="s" transform="translate(688.65,504.20) scale(0.92,1)" x="0 15.85 23.27 39.12" y="0" font-size="30.3">0.<tspan class="h">1</tspan>2</text>
<path class="t" d="M720.45 504.2H718V487.63C717.41 488.22 716.64 488.81 715.68 489.41C714.73 490 713.87 490.44 713.1 490.74V488.22C714.46 487.53 715.66 486.67 716.68 485.71C717.7 484.74 718.42 483.93 718.85 483.35H720.45Z"/>
<text class="s" transform="translate(826.30,446.50) scale(0.92,1)" x="0" y="0" font-size="30.3">0</text>
<text class="s" transform="translate(826.30,370.59) scale(0.92,1)" x="0" y="0" font-size="30.3">5</text>
<text class="s" transform="translate(811.71,294.68) scale(0.92,1)" x="0 15.85" y="0" font-size="30.3"><tspan class="h">1</tspan>0</text>
<path class="t" d="M822.1 294.68H819.65V278.11C819.06 278.7 818.29 279.29 817.33 279.89C816.38 280.48 815.52 280.92 814.75 281.22V278.7C816.11 278.01 817.31 277.15 818.33 276.19C819.35 275.22 820.07 274.41 820.51 273.83H822.1Z"/>
<text class="s" transform="translate(811.71,218.77) scale(0.92,1)" x="0 15.85" y="0" font-size="30.3"><tspan class="h">1</tspan>5</text>
<path class="t" d="M822.1 218.77H819.65V202.2C819.06 202.79 818.29 203.38 817.33 203.98C816.38 204.57 815.52 205.01 814.75 205.31V202.79C816.11 202.1 817.31 201.24 818.33 200.28C819.35 199.31 820.07 198.5 820.51 197.92H822.1Z"/>
<text class="s" transform="translate(811.71,142.86) scale(0.92,1)" x="0 15.85" y="0" font-size="30.3">20</text>
<text class="s" transform="translate(811.71,66.95) scale(0.92,1)" x="0 15.85" y="0" font-size="30.3">25</text>
<text class="s" transform="translate(829.55,504.20) scale(0.92,1)" x="0 15.85 23.27 39.12" y="0" font-size="30.3">0.<tspan class="h">1</tspan>0</text>
<path class="t" d="M861.35 504.2H858.9V487.63C858.31 488.22 857.54 488.81 856.58 489.41C855.63 490 854.77 490.44 854 490.74V488.22C855.36 487.53 856.56 486.67 857.58 485.71C858.6 484.74 859.32 483.93 859.75 483.35H861.35Z"/>
<text class="s" transform="translate(953.57,504.20) scale(0.92,1)" x="0 15.85 23.27 39.12" y="0" font-size="30.3">0.<tspan class="h">1</tspan>5</text>
<path class="t" d="M985.37 504.2H982.92V487.63C982.33 488.22 981.56 488.81 980.6 489.41C979.65 490 978.79 490.44 978.02 490.74V488.22C979.38 487.53 980.58 486.67 981.6 485.71C982.62 484.74 983.34 483.93 983.77 483.35H985.37Z"/>
<text class="s" transform="translate(1077.59,504.20) scale(0.92,1)" x="0 15.85 23.27 39.12" y="0" font-size="30.3">0.20</text>
<text class="s" transform="translate(1201.61,504.20) scale(0.92,1)" x="0 15.85 23.27 39.12" y="0" font-size="30.3">0.25</text>
<text class="s" transform="translate(1325.63,504.20) scale(0.92,1)" x="0 15.85 23.27 39.12" y="0" font-size="30.3">0.30</text>
<text class="s" transform="translate(1449.65,504.20) scale(0.92,1)" x="0 15.85 23.27 39.12" y="0" font-size="30.3">0.35</text>
<text transform="translate(406.8,538.6) scale(0.905,1)" font-family='"Liberation Serif", serif' font-size="41.5" text-anchor="middle" class="ax"><tspan font-style="italic">t</tspan> (s)</text>
<text transform="translate(1164.8,538.6) scale(0.905,1)" font-family='"Liberation Serif", serif' font-size="41.5" text-anchor="middle" class="ax"><tspan font-style="italic">t</tspan> (s)</text>
<text transform="translate(28.6,240.9) rotate(-90) scale(0.905,1)" x="0" y="0" font-family='"Liberation Serif", serif' font-size="41.5" text-anchor="middle" class="ax"><tspan font-style="italic">p</tspan> (MPa)</text>
<text transform="translate(797.8,242.5) rotate(-90) scale(0.905,1)" x="0" y="0" font-family='"Liberation Serif", serif' font-size="41.5" text-anchor="middle" class="ax"><tspan font-style="italic">p</tspan> (MPa)</text>
<text transform="translate(396.90,594.00) scale(0.985,1)" font-family='"Liberation Serif", serif' font-size="40.5" text-anchor="middle" class="cap">(a) 40m</text>
<text transform="translate(1156.90,593.90) scale(0.975,1)" font-family='"Liberation Serif", serif' font-size="40.5" text-anchor="middle" class="cap">(b)80m</text>
<line x1="575.3" y1="44.2" x2="631.8" y2="44.2" stroke="#000000" stroke-width="4"/>
<text class="s" transform="translate(637.10,52.80) scale(0.92,1)" x="0 15.02 30.03" y="0" font-size="27"><tspan class="h">1</tspan>0m</text>
<path class="t" d="M646.35 52.8H644.17V38.03C643.65 38.56 642.96 39.09 642.11 39.62C641.26 40.14 640.5 40.54 639.8 40.8V38.56C641.02 37.94 642.08 37.18 642.99 36.32C643.9 35.46 644.55 34.74 644.94 34.22H646.35Z"/>
<line x1="575.3" y1="73.1" x2="623.2" y2="73.1" stroke="#0000ff" stroke-width="4" stroke-dasharray="8,5.3"/>
<text class="s" transform="translate(637.10,81.70) scale(0.92,1)" x="0 15.02 30.03" y="0" font-size="27">20m</text>
<line x1="575.3" y1="101.8" x2="631.8" y2="101.8" stroke="#ff0000" stroke-width="4"/>
<text class="s" transform="translate(637.10,110.40) scale(0.92,1)" x="0 15.02 30.03" y="0" font-size="27">40m</text>
<line x1="575.3" y1="130.5" x2="623.2" y2="130.5" stroke="#ff00ff" stroke-width="4" stroke-dasharray="8,5.3"/>
<text class="s" transform="translate(637.10,139.10) scale(0.92,1)" x="0 15.02 30.03" y="0" font-size="27">60m</text>
<line x1="575.3" y1="159.3" x2="631.8" y2="159.3" stroke="#808000" stroke-width="4"/>
<text class="s" transform="translate(637.10,167.90) scale(0.92,1)" x="0 15.02 30.03" y="0" font-size="27">80m</text>
<line x1="1332.0" y1="52.6" x2="1388.6" y2="52.6" stroke="#000000" stroke-width="4"/>
<text class="s" transform="translate(1394.00,61.20) scale(0.92,1)" x="0 15.02 30.03" y="0" font-size="27"><tspan class="h">1</tspan>0m</text>
<path class="t" d="M1403.25 61.2H1401.07V46.43C1400.55 46.96 1399.86 47.49 1399.01 48.02C1398.16 48.54 1397.4 48.94 1396.7 49.2V46.96C1397.92 46.34 1398.98 45.58 1399.89 44.72C1400.8 43.86 1401.45 43.14 1401.84 42.62H1403.25Z"/>
<line x1="1332.0" y1="81.3" x2="1379.9" y2="81.3" stroke="#0000ff" stroke-width="4" stroke-dasharray="8,5.3"/>
<text class="s" transform="translate(1394.00,89.90) scale(0.92,1)" x="0 15.02 30.03" y="0" font-size="27">20m</text>
<line x1="1332.0" y1="109.9" x2="1388.6" y2="109.9" stroke="#ff0000" stroke-width="4"/>
<text class="s" transform="translate(1394.00,118.50) scale(0.92,1)" x="0 15.02 30.03" y="0" font-size="27">40m</text>
<line x1="1332.0" y1="139.0" x2="1379.9" y2="139.0" stroke="#ff00ff" stroke-width="4" stroke-dasharray="8,5.3"/>
<text class="s" transform="translate(1394.00,147.60) scale(0.92,1)" x="0 15.02 30.03" y="0" font-size="27">60m</text>
<line x1="1332.0" y1="168.2" x2="1388.6" y2="168.2" stroke="#808000" stroke-width="4"/>
<text class="s" transform="translate(1394.00,176.80) scale(0.92,1)" x="0 15.02 30.03" y="0" font-size="27">80m</text>
<text class="s" transform="translate(282.60,152.60) scale(0.97,1)" x="0 11.18 23.7 36.21 47.39 58.57 64.47 80.93 93.45 104.63" y="0" font-size="23.8">shock wave</text>
<text class="s" transform="translate(387.30,305.20) scale(0.97,1)" x="0 11.3 23.94 35.24 39.92 45.94 58.57 64.59 69.27 81.91 94.55 100.56 111.86 124.49 129.18 133.87 146.51 159.14 170.44 183.08" y="0" font-size="23.8">cavitation collapsed</text>
<line x1="278.80" y1="145.30" x2="172.12" y2="84.41" stroke="#000" stroke-width="1.1"/>
<polygon points="163.00,79.20 175.64,82.27 172.07,88.52" fill="#000"/>
<line x1="278.80" y1="145.60" x2="183.96" y2="136.95" stroke="#000" stroke-width="1.1"/>
<polygon points="173.50,136.00 186.28,133.55 185.62,140.72" fill="#000"/>
<line x1="278.40" y1="147.20" x2="213.23" y2="173.56" stroke="#000" stroke-width="1.1"/>
<polygon points="203.50,177.50 213.74,169.48 216.44,176.15" fill="#000"/>
<line x1="278.40" y1="147.50" x2="246.94" y2="232.65" stroke="#000" stroke-width="1.1"/>
<polygon points="243.30,242.50 244.26,229.53 251.01,232.02" fill="#000"/>
<line x1="278.60" y1="147.50" x2="291.53" y2="287.04" stroke="#000" stroke-width="1.1"/>
<polygon points="292.50,297.50 287.76,285.39 294.93,284.72" fill="#000"/>
<line x1="405.00" y1="314.50" x2="269.85" y2="337.26" stroke="#000" stroke-width="1.1"/>
<polygon points="259.50,339.00 271.23,333.37 272.42,340.47" fill="#000"/>
<line x1="405.00" y1="314.50" x2="288.32" y2="358.77" stroke="#000" stroke-width="1.1"/>
<polygon points="278.50,362.50 288.91,354.70 291.46,361.43" fill="#000"/>
<line x1="405.00" y1="314.50" x2="314.53" y2="379.38" stroke="#000" stroke-width="1.1"/>
<polygon points="306.00,385.50 314.06,375.29 318.26,381.14" fill="#000"/>
<line x1="405.00" y1="314.50" x2="405.00" y2="410.80" stroke="#000" stroke-width="1.1"/>
<polygon points="405.00,421.30 401.40,408.80 408.60,408.80" fill="#000"/>
</svg></body></html>
